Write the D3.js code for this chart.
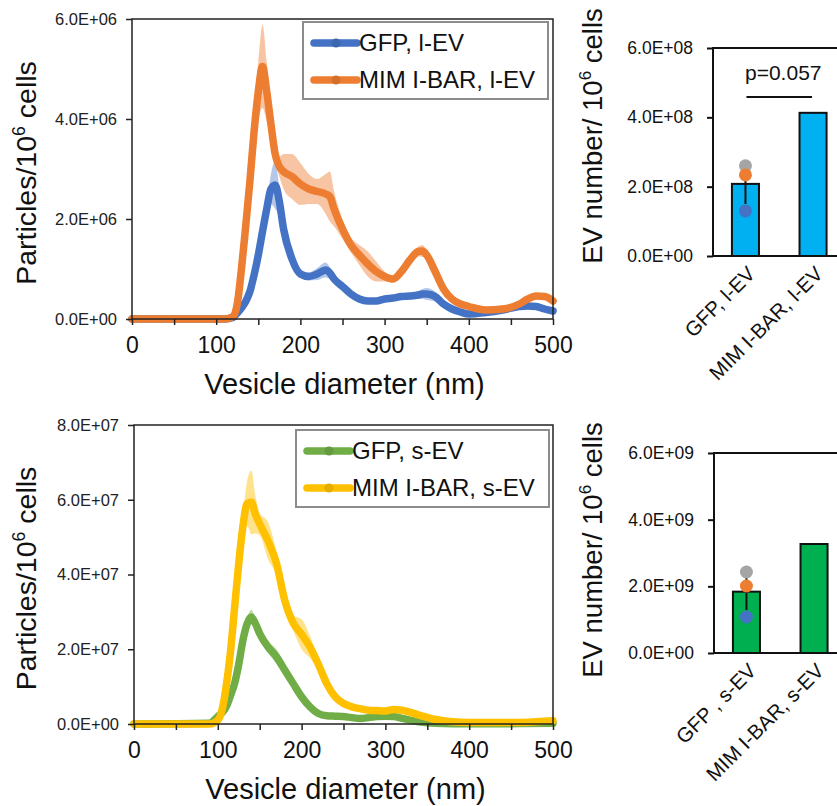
<!DOCTYPE html>
<html>
<head>
<meta charset="utf-8">
<script src="https://cdn.jsdelivr.net/npm/d3@7"></script>
<style>
  body { margin: 0; background: #fff; }
  svg { display: block; }
</style>
</head>
<body>
<script>
// ---- data ----
// large EV size distribution (particles/10^6 cells, in units of 1e6)
var diamL = [0,110,120,125,130,135,140,145,150,155,160,165,170,175,180,190,200,210,220,230,235,240,250,260,270,280,290,300,310,320,330,340,345,350,360,370,380,390,400,420,440,460,470,480,490,500];
var gfpL = [0,0,0.03,0.12,0.22,0.35,0.55,0.88,1.28,1.75,2.2,2.6,2.68,2.35,1.8,1.2,0.9,0.85,0.9,0.98,0.92,0.8,0.65,0.5,0.4,0.36,0.36,0.4,0.42,0.45,0.46,0.48,0.5,0.5,0.45,0.3,0.2,0.14,0.1,0.13,0.18,0.25,0.26,0.25,0.2,0.16];
var gfpLsd = [0,0,0,0,0,0,0.02,0.03,0.05,0.07,0.12,0.3,0.48,0.3,0.15,0.08,0.08,0.08,0.12,0.15,0.12,0.08,0.05,0.04,0.04,0.04,0.04,0.04,0.04,0.05,0.06,0.08,0.1,0.12,0.1,0.05,0.03,0.03,0.03,0.03,0.03,0.03,0.03,0.03,0.03,0.03];
var mimL = [0,0,0.05,0.3,1.0,1.85,2.75,3.75,4.55,5.05,4.55,3.9,3.3,3.05,2.95,2.85,2.7,2.6,2.55,2.5,2.45,2.2,1.8,1.48,1.28,1.1,0.95,0.85,0.8,0.95,1.18,1.35,1.36,1.28,0.95,0.6,0.4,0.3,0.25,0.18,0.2,0.3,0.4,0.46,0.45,0.36];
var mimLsd = [0,0,0,0.02,0.05,0.1,0.2,0.4,0.6,0.83,0.6,0.3,0.15,0.2,0.35,0.45,0.42,0.3,0.25,0.4,0.5,0.35,0.2,0.15,0.2,0.25,0.2,0.1,0.05,0.05,0.05,0.1,0.12,0.08,0.05,0.03,0.03,0.03,0.03,0.03,0.03,0.03,0.03,0.03,0.03,0.03];

// small EV size distribution (in units of 1e7)
var diamS = [0,90,100,105,110,115,120,125,130,135,140,145,150,160,170,180,190,200,210,220,230,240,250,260,270,280,290,300,310,320,340,360,380,400,450,500];
var gfpS = [0,0.02,0.2,0.3,0.46,0.75,1.08,1.6,2.24,2.68,2.86,2.68,2.42,2.06,1.8,1.44,1.08,0.73,0.46,0.28,0.22,0.21,0.2,0.17,0.15,0.17,0.2,0.21,0.2,0.15,0.06,0.02,0.01,0.01,0.01,0.02];
var gfpSsd = [0,0,0,0,0,0.02,0.05,0.08,0.12,0.15,0.2,0.15,0.12,0.15,0.2,0.12,0.08,0.05,0.04,0.04,0.03,0.03,0.03,0.03,0.03,0.03,0.03,0.03,0.03,0.03,0.03,0.03,0.03,0.03,0.03,0.03];
var mimS = [0,0,0.1,0.37,1.0,1.9,3.1,4.3,5.3,5.9,5.93,5.6,5.35,4.9,4.3,3.3,2.7,2.4,2.06,1.6,1.08,0.73,0.55,0.46,0.41,0.37,0.36,0.35,0.39,0.37,0.24,0.12,0.06,0.04,0.04,0.09];
var mimSsd = [0,0,0,0.02,0.05,0.08,0.12,0.2,0.3,0.6,0.85,0.5,0.3,0.5,0.3,0.15,0.2,0.4,0.3,0.15,0.03,0.03,0.03,0.03,0.03,0.03,0.03,0.03,0.03,0.03,0.03,0.03,0.03,0.03,0.03,0.03];

var xTicks = [0,100,200,300,400,500];
var xMinor = [0,50,100,150,200,250,300,350,400,450,500];
var yTicksL = [0,2,4,6];      // x1e6
var yTicksS = [0,2,4,6,8];    // x1e7

// EV counts
var barCatsL = ["GFP, l-EV", "MIM I-BAR, l-EV"];
var barValsL = [2.08e8, 4.13e8];
var barErrL = 0.58e8;
var dotsL = [2.6e8, 2.34e8, 1.30e8];
var barTicksL = [0, 2e8, 4e8, 6e8];

var barCatsS = ["GFP , s-EV", "MIM I-BAR, s-EV"];
var barValsS = [1.84e9, 3.27e9];
var barErrS = 0.55e9;
var dotsS = [2.43e9, 2.01e9, 1.08e9];
var barTicksS = [0, 2e9, 4e9, 6e9];

var dotColours = ["#a5a5a5", "#ed7d31", "#4472c4"];
var font = "'Liberation Sans', Arial, sans-serif";

function sci(v) {
  if (v === 0) return "0.0E+00";
  var e = Math.floor(Math.log10(v) + 1e-9);
  var m = v / Math.pow(10, e);
  return m.toFixed(1) + "E+" + (e < 10 ? "0" + e : e);
}

var svg = d3.select("body").append("svg")
    .attr("width", 837)
    .attr("height", 806)
    .style("font-family", font);

// rotated y title with superscript 6
function yTitle(g, x, y, size, before, after) {
  var t = g.append("text")
      .attr("transform", "translate(" + x + "," + y + ") rotate(-90)")
      .attr("text-anchor", "middle")
      .attr("dy", "0.35em")
      .style("font-size", size + "px")
      .attr("fill", "#111");
  t.append("tspan").text(before);
  t.append("tspan").text("6").style("font-size", (size * 0.62) + "px").attr("dy", -size * 0.4);
  t.append("tspan").text(after).attr("dy", size * 0.4);
}

// ---- size distribution panel ----
function drawDist(cfg) {
  var x = d3.scaleLinear().domain([0, 500]).range([cfg.left, cfg.right]);
  var y = d3.scaleLinear().domain([0, cfg.ymax]).range([cfg.bottom, cfg.top]);
  var g = svg.append("g");

  var series = cfg.series;
  series.forEach(function(s) {
    var pts = cfg.diam.map(function(d, i) { return { d: d, v: s.vals[i], sd: s.sd[i] }; });
    var area = d3.area()
        .x(function(p) { return x(p.d); })
        .y0(function(p) { return y(Math.max(0, p.v - p.sd)); })
        .y1(function(p) { return y(p.v + p.sd); })
        .curve(d3.curveMonotoneX);
    g.append("path").datum(pts)
        .attr("d", area)
        .attr("fill", s.band)
        .attr("opacity", 0.75);
  });
  series.forEach(function(s) {
    var pts = cfg.diam.map(function(d, i) { return { d: d, v: s.vals[i] }; });
    var line = d3.line()
        .x(function(p) { return x(p.d); })
        .y(function(p) { return y(p.v); })
        .curve(d3.curveMonotoneX);
    g.append("path").datum(pts)
        .attr("d", line)
        .attr("fill", "none")
        .attr("stroke", s.colour)
        .attr("stroke-width", 7.5)
        .attr("stroke-linejoin", "round")
        .attr("stroke-linecap", "round");
  });

  // frame
  g.append("rect")
      .attr("x", cfg.left).attr("y", cfg.top)
      .attr("width", cfg.right - cfg.left).attr("height", cfg.bottom - cfg.top)
      .attr("fill", "none").attr("stroke", "#222").attr("stroke-width", 1.5);

  // x axis
  var xa = g.append("g").attr("transform", "translate(0," + cfg.bottom + ")")
      .call(d3.axisBottom(x).tickValues(xMinor).tickSize(6).tickPadding(12)
        .tickFormat(function(d) { return xTicks.indexOf(d) >= 0 ? d : ""; }));
  xa.select(".domain").remove();
  xa.selectAll("line").attr("stroke", "#222").attr("stroke-width", 1.5);
  xa.selectAll("text").style("font-size", "23px").style("font-family", font).attr("fill", "#111");

  // y axis
  var ya = g.append("g").attr("transform", "translate(" + cfg.left + ",0)")
      .call(d3.axisLeft(y).tickValues(cfg.yTicks).tickSize(6).tickPadding(9)
        .tickFormat(function(d) { return sci(d * cfg.unit); }));
  ya.select(".domain").remove();
  ya.selectAll("line").attr("stroke", "#222").attr("stroke-width", 1.5);
  ya.selectAll("text").style("font-size", "16.5px").style("font-family", font).attr("fill", "#222");

  g.append("text")
      .attr("x", (cfg.left + cfg.right) / 2 + 2)
      .attr("y", cfg.bottom + 65)
      .attr("dy", "0.35em")
      .attr("text-anchor", "middle")
      .style("font-size", "29px")
      .attr("fill", "#111")
      .text("Vesicle diameter (nm)");

  yTitle(g, 26, (cfg.top + cfg.bottom) / 2 + 4, 28.5, "Particles/10", " cells");

  // legend
  var lg = cfg.legend;
  g.append("rect")
      .attr("x", lg.x).attr("y", lg.y).attr("width", lg.w).attr("height", lg.h)
      .attr("fill", "#fff").attr("stroke", "#8c8c8c").attr("stroke-width", 2);
  series.forEach(function(s, i) {
    var ly = lg.y + 21 + i * 37;
    g.append("line")
        .attr("x1", lg.x + 11).attr("x2", lg.x + 54)
        .attr("y1", ly).attr("y2", ly)
        .attr("stroke", s.colour).attr("stroke-width", 7.5).attr("stroke-linecap", "round");
    g.append("circle")
        .attr("cx", lg.x + 33).attr("cy", ly).attr("r", 4.5)
        .attr("fill", d3.color(s.colour).darker(0.3));
    g.append("text")
        .attr("x", lg.x + 56).attr("y", ly)
        .attr("dy", "0.35em")
        .style("font-size", "24px")
        .attr("fill", "#111")
        .text(s.name);
  });
}

// ---- bar panel ----
function drawBars(cfg) {
  var x = d3.scaleBand().domain(cfg.cats).range([cfg.left, cfg.left + 132.5])
      .paddingInner(0.6).paddingOuter(0.28);
  var y = d3.scaleLinear().domain([0, cfg.ymax]).range([cfg.bottom, cfg.top]);
  var g = svg.append("g");

  g.selectAll("rect.bar").data(cfg.vals).enter().append("rect")
      .attr("class", "bar")
      .attr("x", function(d, i) { return x(cfg.cats[i]); })
      .attr("y", function(d) { return y(d); })
      .attr("width", x.bandwidth())
      .attr("height", function(d) { return cfg.bottom - y(d); })
      .attr("fill", cfg.fill)
      .attr("stroke", "#111")
      .attr("stroke-width", 2);

  var cx = x(cfg.cats[0]) + x.bandwidth() / 2;
  g.append("line")
      .attr("x1", cx).attr("x2", cx)
      .attr("y1", y(cfg.vals[0] - cfg.err)).attr("y2", y(cfg.vals[0] + cfg.err))
      .attr("stroke", "#111").attr("stroke-width", 2);
  g.selectAll("circle").data(cfg.dots).enter().append("circle")
      .attr("cx", cx)
      .attr("cy", function(d) { return y(d); })
      .attr("r", 6.5)
      .attr("fill", function(d, i) { return dotColours[i]; });

  // frame: left, top, bottom (right side lies beyond the page)
  g.append("path")
      .attr("d", "M" + (cfg.left + 140) + "," + cfg.top + "H" + cfg.left + "V" + cfg.bottom + "H" + (cfg.left + 140))
      .attr("fill", "none").attr("stroke", "#111").attr("stroke-width", 2);

  var ya = g.append("g").attr("transform", "translate(" + cfg.left + ",0)")
      .call(d3.axisLeft(y).tickValues(cfg.ticks).tickSize(6).tickPadding(14).tickFormat(sci));
  ya.select(".domain").remove();
  ya.selectAll("line").attr("stroke", "#111").attr("stroke-width", 2);
  ya.selectAll("text").style("font-size", "17.5px").style("font-family", font).attr("fill", "#111");

  cfg.cats.forEach(function(c) {
    var bx = x(c) + x.bandwidth() / 2 + 6;
    g.append("text")
        .attr("transform", "translate(" + bx + "," + (cfg.bottom + 14) + ") rotate(-45)")
        .attr("text-anchor", "end")
        .attr("dy", "0.35em")
        .style("font-size", "20.5px")
        .attr("fill", "#111")
        .text(c);
  });

  yTitle(g, 592, cfg.titleY, 27.5, "EV number/ 10", " cells");

  if (cfg.p) {
    var x1 = x(cfg.cats[0]) + x.bandwidth() / 2, x2 = x(cfg.cats[1]) + x.bandwidth() / 2;
    g.append("line")
        .attr("x1", x1 + 1).attr("x2", x2 - 1)
        .attr("y1", cfg.top + 49).attr("y2", cfg.top + 49)
        .attr("stroke", "#111").attr("stroke-width", 2);
    g.append("text")
        .attr("x", (x1 + x2) / 2 + 4).attr("y", cfg.top + 25)
        .attr("dy", "0.35em")
        .attr("text-anchor", "middle")
        .style("font-size", "21px")
        .attr("fill", "#111")
        .text(cfg.p);
  }
}

drawDist({
  left: 132, right: 553, top: 19, bottom: 319, ymax: 6, unit: 1e6, yTicks: yTicksL,
  diam: diamL,
  series: [
    { name: "GFP, l-EV", vals: gfpL, sd: gfpLsd, colour: "#4472c4", band: "#9db5e3" },
    { name: "MIM I-BAR, l-EV", vals: mimL, sd: mimLsd, colour: "#ed7d31", band: "#f4b184" }
  ],
  legend: { x: 303, y: 22, w: 245, h: 77 }
});

drawDist({
  left: 134, right: 553, top: 425, bottom: 724, ymax: 8, unit: 1e7, yTicks: yTicksS,
  diam: diamS,
  series: [
    { name: "GFP, s-EV", vals: gfpS, sd: gfpSsd, colour: "#70ad47", band: "#a9d18e" },
    { name: "MIM I-BAR, s-EV", vals: mimS, sd: mimSsd, colour: "#ffc000", band: "#ffd966" }
  ],
  legend: { x: 296, y: 430, w: 253, h: 77 }
});

drawBars({
  left: 713, top: 48, bottom: 256, ymax: 6e8, ticks: barTicksL,
  cats: barCatsL, vals: barValsL, err: barErrL, dots: dotsL,
  fill: "#00b0f0", titleY: 136, p: "p=0.057"
});

drawBars({
  left: 714, top: 453, bottom: 653, ymax: 6e9, ticks: barTicksS,
  cats: barCatsS, vals: barValsS, err: barErrS, dots: dotsS,
  fill: "#00b050", titleY: 550
});
</script>
</body>
</html>
